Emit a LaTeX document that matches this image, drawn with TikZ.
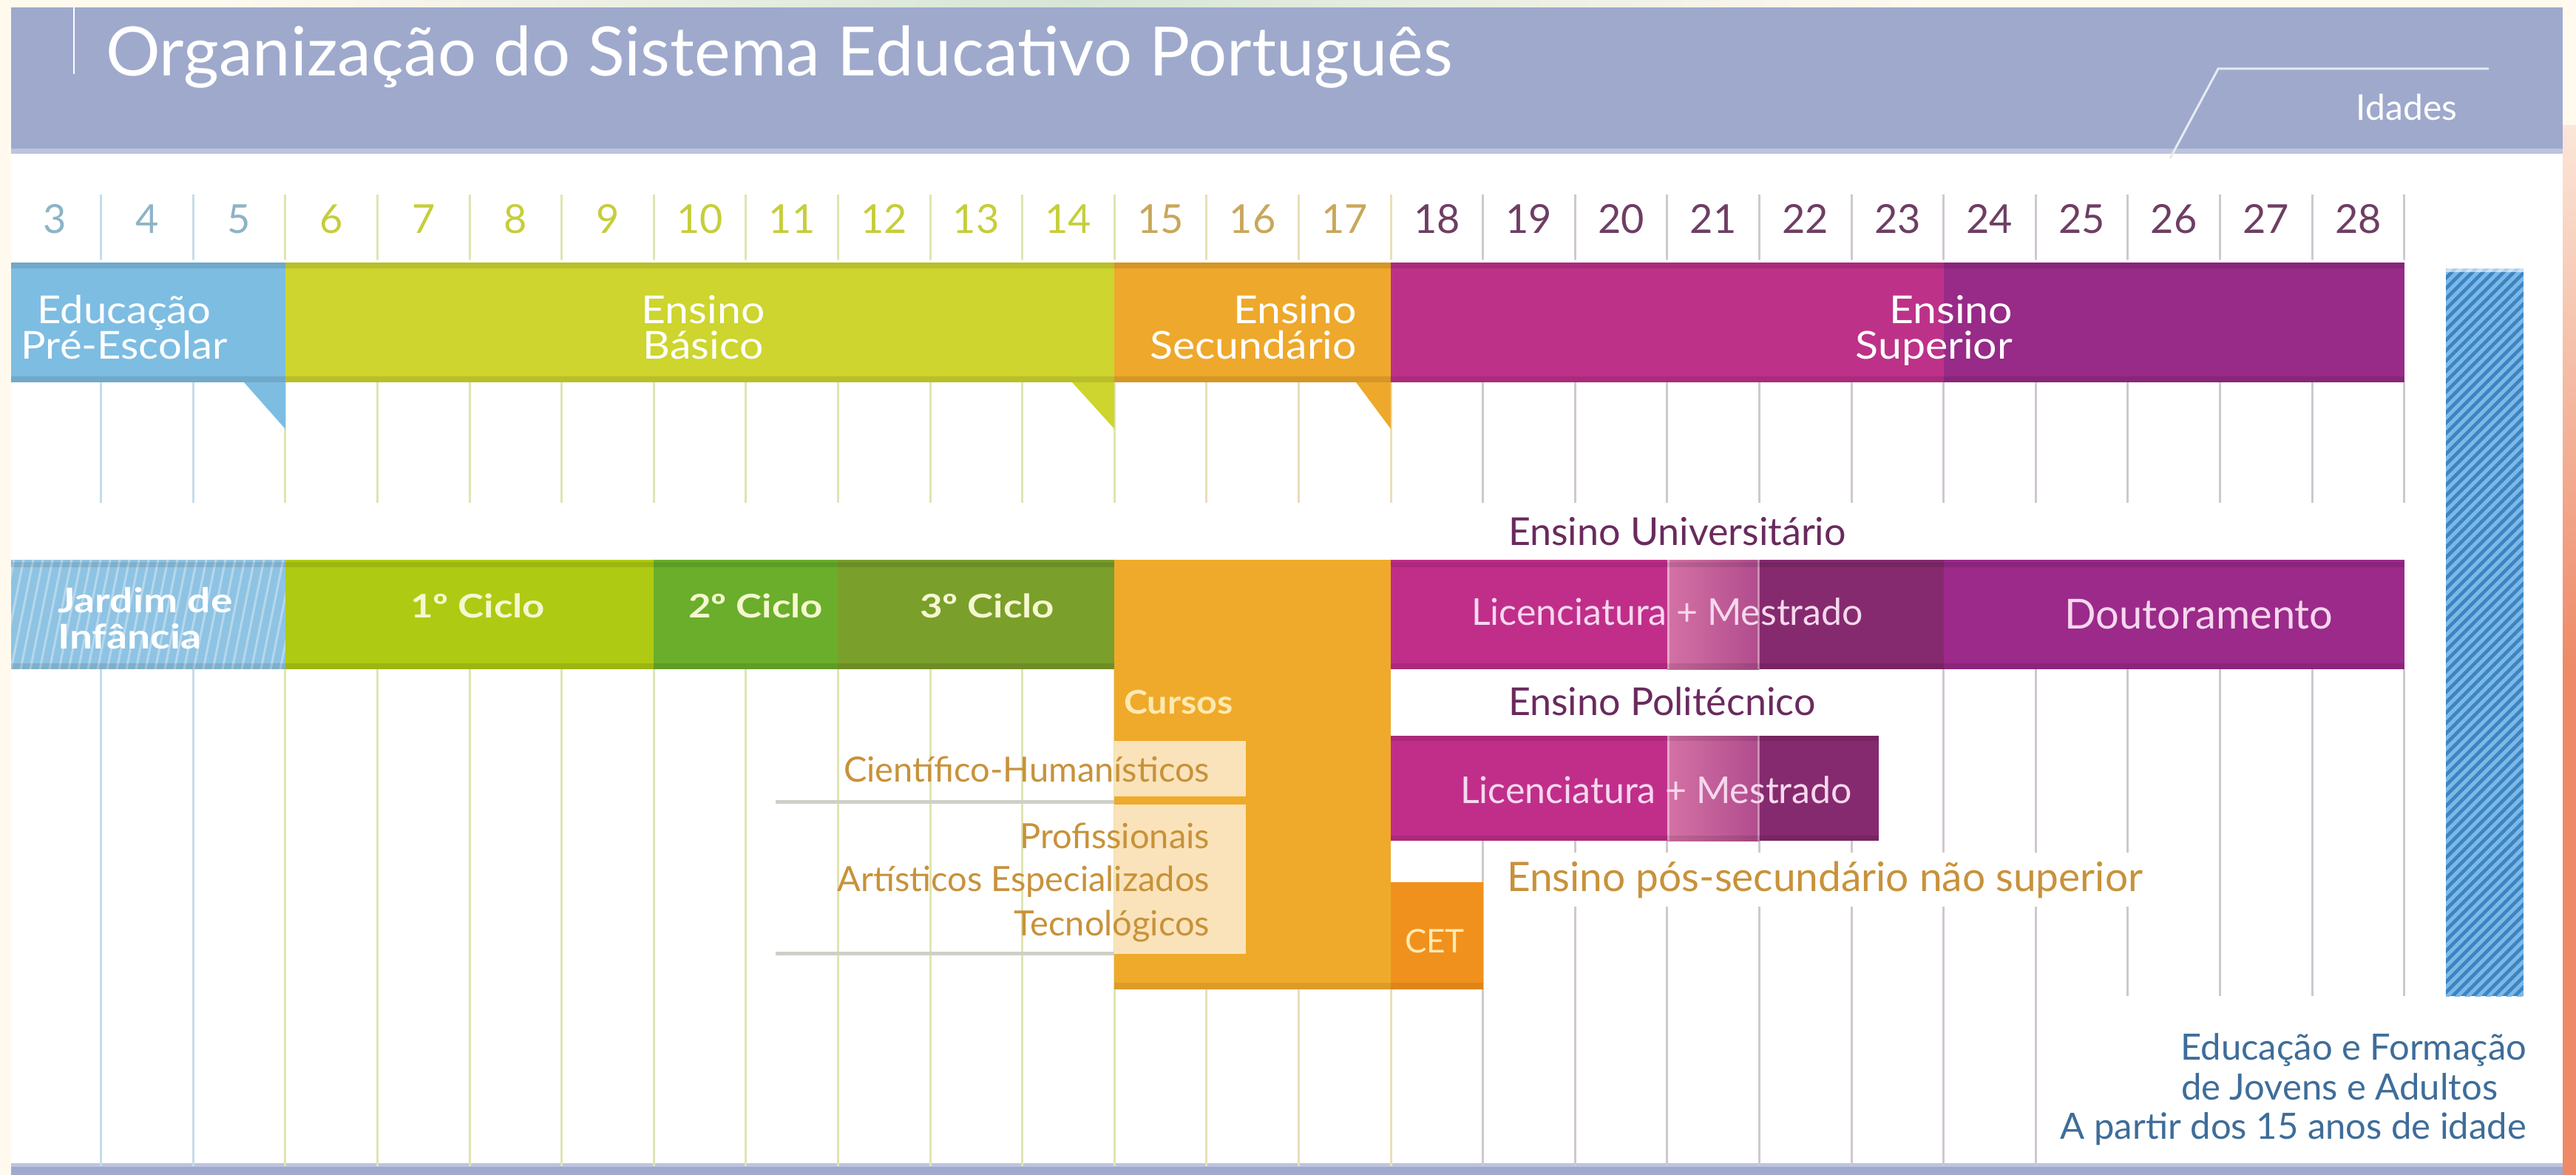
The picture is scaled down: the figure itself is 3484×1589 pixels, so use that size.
\documentclass[tikz,border=0pt]{standalone}
\usepackage{fontspec}
\setmainfont{Lato}
\newcommand\myfs[2]{\fontsize{#1}{#2}\selectfont}
\newcommand\hs[2]{\scalebox{#1}[1]{#2}}
\definecolor{bgcream}{HTML}{FFF9EE}
\definecolor{hdr}{HTML}{9EA9CC}
\definecolor{hdrlight}{HTML}{BCC4DE}
\definecolor{salmon}{HTML}{EE8A68}
\definecolor{salmonlight}{HTML}{FBE6D8}
\definecolor{numblue}{HTML}{8DB4C6}
\definecolor{numgreen}{HTML}{C5CE3A}
\definecolor{numtan}{HTML}{C9A75A}
\definecolor{numpurple}{HTML}{6E3E63}
\definecolor{gridblue}{HTML}{C5DCE8}
\definecolor{gridgreen}{HTML}{DFE5B0}
\definecolor{gridtan}{HTML}{EBDDB8}
\definecolor{gridgrey}{HTML}{CFC8D0}
\definecolor{pblue}{HTML}{7DBDE2}
\definecolor{jblue}{HTML}{8EC3E3}
\definecolor{pgreen}{HTML}{CDD52E}
\definecolor{porange}{HTML}{EEA82B}
\definecolor{pmagenta}{HTML}{BD3288}
\definecolor{ppurple}{HTML}{972B87}
\definecolor{cyc1}{HTML}{AFCA12}
\definecolor{cyc2}{HTML}{6AAE2B}
\definecolor{cyc3}{HTML}{7A9F2B}
\definecolor{secor}{HTML}{EFAA2B}
\definecolor{cetor}{HTML}{F0911D}
\definecolor{umag}{HTML}{C02E8A}
\definecolor{uplum}{HTML}{852A6E}
\definecolor{upurple}{HTML}{9B2A8A}
\definecolor{umixa}{HTML}{D472A6}
\definecolor{umixb}{HTML}{B04C8C}
\definecolor{pale}{HTML}{FAE3BA}
\definecolor{brtext}{HTML}{C8923A}
\definecolor{plumtext}{HTML}{6A2A5E}
\definecolor{cyctext}{HTML}{F5F8D0}
\definecolor{cettext}{HTML}{FFE9B0}
\definecolor{lmtext}{HTML}{F6D8EE}
\definecolor{eftext}{HTML}{3E6D9A}
\definecolor{barblue}{HTML}{3C85C3}
\definecolor{barstripe}{HTML}{7DB8E6}
\definecolor{uline}{HTML}{CFCFC8}
\tikzset{
  bandtxt/.style={text=white, font=\myfs{52}{48}},
  cyctxt/.style={text=cyctext, font=\bfseries\myfs{44}{49}},
  curtxt/.style={text=brtext, font=\myfs{47}{47}, anchor=base east},
  plumlbl/.style={text=plumtext, font=\myfs{52}{52}, anchor=base west},
  lmtxt/.style={text=lmtext, font=\myfs{50}{50}, anchor=base},
  eftxt/.style={text=eftext, font=\myfs{49}{49}},
  gline/.style={line width=3}
}
\begin{document}
\begin{tikzpicture}[x=1pt,y=-1pt, every node/.style={inner sep=0pt, outer sep=0pt}]
\useasboundingbox (0,0) rectangle (3484,1589);
% background
\fill[bgcream] (0,0) rectangle (3484,1589);
\shade[left color=bgcream, right color=bgcream, middle color={rgb,255:red,214;green,230;blue,214}] (300,0) rectangle (2600,10);
\fill[white] (15,205) rectangle (3466,1577);
\shade[top color=salmonlight, bottom color=salmon] (3466,170) rectangle (3484,900);
\fill[salmon] (3466,899) rectangle (3484,1589);
% header
\fill[hdr] (15,10) rectangle (3466,205);
\fill[hdrlight] (15,201) rectangle (3466,208);
\draw[white, line width=2] (100,10) -- (100,100);
\draw[white!75!hdr, line width=3] (2935,214) -- (3000,93) -- (3366,93);
\node[anchor=base west, text=white, font=\myfs{92}{92}] (title) at (143,103) {Organização do Sistema Educativo Português};
\node[anchor=base, text=white, font=\myfs{48}{48}] (idades) at (3255,163) {Idades};
% bottom band
\fill[hdr] (15,1577) rectangle (3466,1589);
\fill[hdrlight] (15,1573) rectangle (3466,1578);
% grid lines
\foreach \k in {1,...,26}{
  \pgfmathsetmacro\xx{12+124.6*\k}
  \ifnum\k<3 \def\lc{gridblue}\else\ifnum\k<13 \def\lc{gridgreen}\else\ifnum\k<16 \def\lc{gridtan}\else\def\lc{gridgrey}\fi\fi\fi
  \draw[gline,\lc] (\xx,263) -- (\xx,352) (\xx,517) -- (\xx,680);
  \ifnum\k<13 \draw[gline,\lc] (\xx,905) -- (\xx,1577);\fi
  \ifnum\k>12 \ifnum\k<16 \draw[gline,\lc] (\xx,1338) -- (\xx,1577);\fi\fi
  \ifnum\k>15 \ifnum\k<21 \draw[gline,\lc] (\xx,1137) -- (\xx,1577);\fi\fi
  \ifnum\k>20 \ifnum\k<23 \draw[gline,\lc] (\xx,905) -- (\xx,1577);\fi\fi
  \ifnum\k>22 \draw[gline,\lc] (\xx,905) -- (\xx,1347);\fi
}
% ages
\foreach \a in {3,...,28}{
  \pgfmathsetmacro\cx{74.3+124.6*(\a-3)}
  \ifnum\a<6 \def\nc{numblue}\else\ifnum\a<15 \def\nc{numgreen}\else\ifnum\a<18 \def\nc{numtan}\else\def\nc{numpurple}\fi\fi\fi
  \node[anchor=base, text=\nc, font=\myfs{54}{54}] (age\a) at (\cx,315) {\a};
}
% ---- top stage band
\fill[pblue] (15,355) rectangle (385.8,517);
\fill[pblue] (330,517) -- (385.8,580) -- (385.8,517) -- cycle;
\fill[pgreen] (385.8,355) rectangle (1507.2,517);
\fill[pgreen] (1450,517) -- (1507.2,580) -- (1507.2,517) -- cycle;
\fill[porange] (1507.2,355) rectangle (1881,517);
\fill[porange] (1834,517) -- (1881,580) -- (1881,517) -- cycle;
\fill[pmagenta] (1881,355) rectangle (2628.6,517);
\fill[ppurple] (2628.6,355) rectangle (3251.6,517);
\fill[black, opacity=0.10] (15,355) rectangle (3251.6,363);
\fill[black, opacity=0.10] (15,509) rectangle (3251.6,517);
\fill[white, opacity=0.5] (15,351) rectangle (3251.6,355);
\node[bandtxt, anchor=base, align=center] (pre) at (168,485) {\hs{1.08}{Educação}\\\hs{1.08}{Pré-Escolar}};
\node[bandtxt, anchor=base, align=center] (basico) at (951,485) {\hs{1.1}{Ensino}\\\hs{1.1}{Básico}};
\node[bandtxt, anchor=base east, align=right] (secund) at (1835,485) {\hs{1.1}{Ensino}\\\hs{1.1}{Secundário}};
\node[bandtxt, anchor=base east, align=right] (superior) at (2722,485) {\hs{1.1}{Ensino}\\\hs{1.1}{Superior}};
% ---- second row
\begin{scope}
  \clip (15,757) rectangle (385.8,905);
  \fill[jblue] (15,757) rectangle (385.8,905);
  \foreach \i in {-4,...,30} \draw[white, opacity=0.35, line width=3] ({15+13*\i},905) -- ({15+13*\i+30},757);
\end{scope}
\fill[cyc1] (385.8,757) rectangle (884.2,905);
\fill[cyc2] (884.2,757) rectangle (1133.4,905);
\fill[cyc3] (1133.4,757) rectangle (1507.2,905);
\fill[secor] (1507.2,757) rectangle (1881,1338);
\fill[black, opacity=0.08] (1507.2,1329) rectangle (1881,1338);
% university
\fill[umag] (1881,757) rectangle (2254.8,905);
\shade[left color=umixa, right color=umixb] (2254.8,757) rectangle (2379.4,905);
\fill[uplum] (2379.4,757) rectangle (2628.6,905);
\fill[upurple] (2628.6,757) rectangle (3251.6,905);
\draw[white, opacity=0.4, line width=3] (2256.5,757) -- (2256.5,905) (2378,757) -- (2378,905);
% polytechnic
\fill[umag] (1881,995) rectangle (2254.8,1137);
\shade[left color=umixa, right color=umixb] (2254.8,995) rectangle (2379.4,1137);
\fill[uplum] (2379.4,995) rectangle (2541,1137);
\draw[white, opacity=0.4, line width=3] (2256.5,995) -- (2256.5,1137) (2378,995) -- (2378,1137);
% shading strips row 2
\fill[black, opacity=0.10] (15,760) rectangle (1507.2,767);
\fill[black, opacity=0.10] (15,897) rectangle (1507.2,905);
\fill[black, opacity=0.10] (1881,760) rectangle (3251.6,767);
\fill[black, opacity=0.10] (1881,897) rectangle (3251.6,905);
\fill[black, opacity=0.10] (1881,995) rectangle (2541,1002);
\fill[black, opacity=0.10] (1881,1130) rectangle (2541,1137);
% CET
\fill[cetor] (1881,1193) rectangle (2005.6,1338);
\fill[black, opacity=0.08] (1881,1329) rectangle (2005.6,1338);
% pale boxes and underlines
\fill[pale] (1507.2,1002) rectangle (1685,1077);
\fill[pale] (1507.2,1088) rectangle (1685,1290);
\draw[uline, line width=5] (1049,1084) -- (1507.2,1084);
\draw[uline, line width=5] (1049,1289) -- (1507.2,1289);
% right hatched bar
\begin{scope}
  \clip (3308,363) rectangle (3413,1347);
  \fill[barblue] (3308,363) rectangle (3413,1347);
  \foreach \i in {0,...,85} \draw[barstripe, line width=5] (3300,{363+14*\i}) -- (3420,{363+14*\i-120});
\end{scope}
\fill[white, opacity=0.6] (3308,363) rectangle (3413,368);
% texts row 2
\node[cyctxt, anchor=base west, align=left, text=white, font=\bfseries\myfs{46}{49}] (jardim) at (78,877) {\hs{1.2}{Jardim de}\\\hs{1.2}{Infância}};
\node[cyctxt, anchor=base] (c1) at (646,835) {\hs{1.2}{1º Ciclo}};
\node[cyctxt, anchor=base] (c2) at (1022,835) {\hs{1.2}{2º Ciclo}};
\node[cyctxt, anchor=base] (c3) at (1335,835) {\hs{1.2}{3º Ciclo}};
\node[anchor=base west, text=cettext, font=\bfseries\myfs{44}{44}] (cursos) at (1520,965) {\hs{1.1}{Cursos}};
\node[curtxt] (cient) at (1636,1057) {Científico-Humanísticos};
\node[curtxt] (prof) at (1636,1147) {Profissionais};
\node[curtxt] (artis) at (1636,1205) {Artísticos Especializados};
\node[curtxt] (tecno) at (1636,1265) {Tecnológicos};
\node[anchor=base west, text=cettext, font=\myfs{44}{44}] (cet) at (1900,1288) {CET};
\node[plumlbl] (univ) at (2040,737) {Ensino Universitário};
\node[lmtxt] (lm1) at (2255,845) {Licenciatura + Mestrado};
\node[lmtxt, font=\myfs{56}{56}] (dout) at (2974,850) {Doutoramento};
\node[plumlbl] (poli) at (2040,967) {Ensino Politécnico};
\node[lmtxt] (lm2) at (2240,1086) {Licenciatura + Mestrado};
\node[anchor=base west, text=brtext, font=\myfs{55}{55}, fill=white, inner xsep=8pt, inner ysep=12pt] (possec) at (2030,1205) {Ensino pós-secundário não superior};
% bottom right
\node[eftxt, anchor=base east] (ef1) at (3417,1433) {Educação e Formação};
\node[eftxt, anchor=base west] (ef2) at (2950,1487) {de Jovens e Adultos};
\node[eftxt, anchor=base east] (ef3) at (3417,1540) {A partir dos 15 anos de idade};
\end{tikzpicture}
\end{document}
